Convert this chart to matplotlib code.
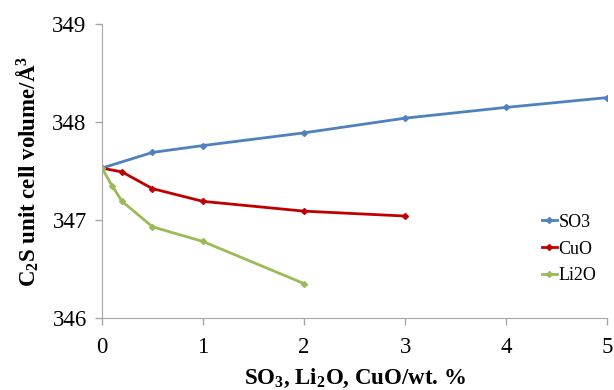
import matplotlib
matplotlib.use("Agg")
import matplotlib.pyplot as plt

plt.rcParams["font.family"] = ["Liberation Serif", "DejaVu Serif"]
plt.rcParams["mathtext.fontset"] = "custom"
plt.rcParams["mathtext.rm"] = "Liberation Serif"
plt.rcParams["mathtext.bf"] = "Liberation Serif:bold"
plt.rcParams["mathtext.default"] = "bf"

# data
x_so3 = [0, 0.5, 1, 2, 3, 4, 5]
y_so3 = [347.53, 347.69, 347.76, 347.89, 348.04, 348.15, 348.25]
x_cuo = [0, 0.2, 0.5, 1, 2, 3]
y_cuo = [347.53, 347.49, 347.32, 347.19, 347.09, 347.04]
x_li2o = [0, 0.1, 0.2, 0.5, 1, 2]
y_li2o = [347.53, 347.35, 347.19, 346.93, 346.78, 346.35]

fig = plt.figure(figsize=(6.14, 3.9), dpi=100)
ax = fig.add_axes([0.166, 0.185, 0.823, 0.753])

ax.plot(x_so3, y_so3, color="#4F81BD", lw=2, marker="D", markersize=3, label="SO3")
ax.plot(x_cuo, y_cuo, color="#C00000", lw=2, marker="D", markersize=3, label="CuO")
ax.plot(x_li2o, y_li2o, color="#9BBB59", lw=2, marker="D", markersize=3, label="Li2O")

ax.set_xlim(0, 5)
ax.set_ylim(346, 349)
ax.set_xticks([0, 1, 2, 3, 4, 5])
ax.set_yticks([346, 347, 348, 349])
ax.tick_params(labelsize=16.5, color="#A6A6A6", length=5, width=1)
ax.tick_params(axis="x", pad=9)
ax.tick_params(axis="y", pad=6)
for s in ["top", "right"]:
    ax.spines[s].set_visible(False)
for s in ["left", "bottom"]:
    ax.spines[s].set_color("#A6A6A6")

ax.set_xlabel("SO$_3$, Li$_2$O, CuO/wt. %", fontsize=16.5, fontweight="bold", labelpad=6)
ax.set_ylabel("C$_2$S unit cell volume/Å$^3$", fontsize=16.5, fontweight="bold", labelpad=8)

ax.legend(loc="upper left", bbox_to_anchor=(0.871, 0.355), frameon=False, fontsize=13,
          handlelength=0.8, handletextpad=0.1, labelspacing=0.55, borderpad=0, borderaxespad=0)

fig.savefig("out.png", dpi=100)
